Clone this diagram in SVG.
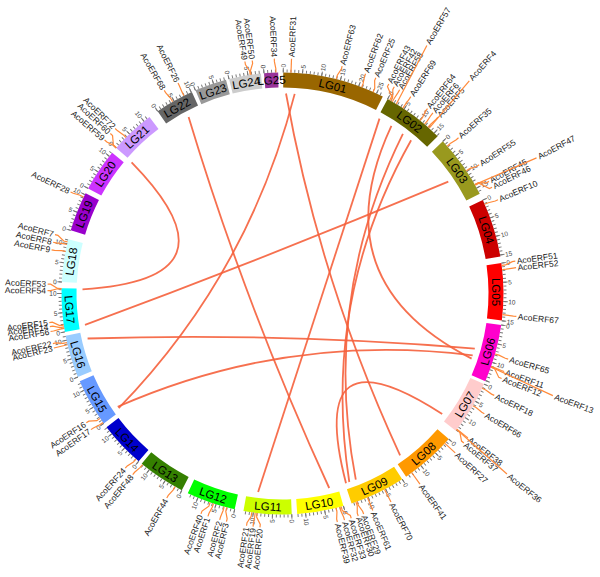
<svg xmlns="http://www.w3.org/2000/svg" width="600" height="577" viewBox="0 0 600 577">
<style>
.b{fill:none;stroke-width:15}
.t{fill:none;stroke:#777;stroke-width:3}
.m{fill:none;stroke:#777;stroke-width:4.5}
.c{font-family:"Liberation Sans",Arial,sans-serif;font-size:11.5px;fill:#000;text-anchor:middle;dominant-baseline:central}
.n{font-family:"Liberation Sans",Arial,sans-serif;font-size:6.5px;fill:#444;dominant-baseline:central}
.ne{font-family:"Liberation Sans",Arial,sans-serif;font-size:6.5px;fill:#444;dominant-baseline:central;text-anchor:end}
.g{font-family:"Liberation Sans",Arial,sans-serif;font-size:8.5px;fill:#222;dominant-baseline:central}
.ge{font-family:"Liberation Sans",Arial,sans-serif;font-size:8.5px;fill:#222;dominant-baseline:central;text-anchor:end}
.l{fill:none;stroke:#FF8A3A;stroke-width:1.2}
.k{fill:none;stroke:#F5603C;stroke-width:1.8;stroke-opacity:.9}
</style>
<rect width="600" height="577" fill="#fff"/>
<g id="links">
<path class="k" d="M188.6,116.9 Q246,307.3 329.2,488"/>
<path class="k" d="M131.6,162.3 Q246.1,279.5 82.5,289.3"/>
<path class="k" d="M294.7,93.9 Q248.5,274.4 118.7,408.2"/>
<path class="k" d="M286,93.5 Q319.7,281.8 400.1,455.3"/>
<path class="k" d="M117.7,406.8 Q288.1,332.1 472.7,355.3"/>
<path class="k" d="M85,324.8 Q268.2,257.2 448.3,181.7"/>
<path class="k" d="M87.6,338.5 Q281.5,332.5 474.8,348.6"/>
<path class="k" d="M391.4,125.8 Q319.4,280.8 471.6,358.6"/>
<path class="k" d="M402.9,133.8 Q321.1,298.8 355.8,479.6"/>
<path class="k" d="M411.1,140.3 Q320.9,300.4 349.3,482"/>
<path class="k" d="M442.2,413.9 Q305.3,325.2 346,483.2"/>
<path class="k" d="M258.1,492 Q319.6,305.5 379.5,118.6"/>
</g>
<g transform="translate(282.5,293.5)">
<g id="LG01">
<circle class="b" r="213.5" pathLength="360" stroke="#996600" stroke-dasharray="26.8 400" transform="rotate(-89.8)"/>
<circle class="t" r="222.5" pathLength="360" transform="rotate(-89.925)" stroke-dasharray=".25 .75 .25 .75 .25 .75 .25 .75 .25 .75 .25 .75 .25 .75 .25 .75 .25 .75 .25 .75 .25 .75 .25 .75 .25 .75 .25 .75 .25 .75 .25 .75 .25 .75 .25 .75 .25 .75 .25 .75 .25 .75 .25 .75 .25 .75 .25 .75 .25 .75 .25 .75 .25 400"/>
<circle class="m" r="223.2" pathLength="360" transform="rotate(-89.925)" stroke-dasharray=".25 4.75 .25 4.75 .25 4.75 .25 4.75 .25 4.75 .25 400"/>
<text class="c" transform="rotate(13.6) translate(0,-213.5)">LG01</text>
<text class="n" transform="rotate(0.2) translate(0,-226) rotate(-90)">0</text>
<text class="n" transform="rotate(5.2) translate(0,-226) rotate(-90)">5</text>
<text class="n" transform="rotate(10.2) translate(0,-226) rotate(-90)">10</text>
<text class="n" transform="rotate(15.2) translate(0,-226) rotate(-90)">15</text>
<text class="n" transform="rotate(20.2) translate(0,-226) rotate(-90)">20</text>
<text class="n" transform="rotate(25.2) translate(0,-226) rotate(-90)">25</text>
</g>
<g id="LG02">
<circle class="b" r="213.5" pathLength="360" stroke="#666600" stroke-dasharray="16.2 400" transform="rotate(-61.6)"/>
<circle class="t" r="222.5" pathLength="360" transform="rotate(-61.725)" stroke-dasharray=".25 .75 .25 .75 .25 .75 .25 .75 .25 .75 .25 .75 .25 .75 .25 .75 .25 .75 .25 .75 .25 .75 .25 .75 .25 .75 .25 .75 .25 .75 .25 .75 .25 400"/>
<circle class="m" r="223.2" pathLength="360" transform="rotate(-61.725)" stroke-dasharray=".25 4.75 .25 4.75 .25 4.75 .25 400"/>
<text class="c" transform="rotate(36.5) translate(0,-213.5)">LG02</text>
<text class="n" transform="rotate(28.4) translate(0,-226) rotate(-90)">0</text>
<text class="n" transform="rotate(33.4) translate(0,-226) rotate(-90)">5</text>
<text class="n" transform="rotate(38.4) translate(0,-226) rotate(-90)">10</text>
<text class="n" transform="rotate(43.4) translate(0,-226) rotate(-90)">15</text>
</g>
<g id="LG03">
<circle class="b" r="213.5" pathLength="360" stroke="#99991E" stroke-dasharray="16.7 400" transform="rotate(-43.5)"/>
<circle class="t" r="222.5" pathLength="360" transform="rotate(-43.625)" stroke-dasharray=".25 .75 .25 .75 .25 .75 .25 .75 .25 .75 .25 .75 .25 .75 .25 .75 .25 .75 .25 .75 .25 .75 .25 .75 .25 .75 .25 .75 .25 .75 .25 .75 .25 400"/>
<circle class="m" r="223.2" pathLength="360" transform="rotate(-43.625)" stroke-dasharray=".25 4.75 .25 4.75 .25 4.75 .25 400"/>
<text class="c" transform="rotate(54.85) translate(0,-213.5)">LG03</text>
<text class="n" transform="rotate(46.5) translate(0,-226) rotate(-90)">0</text>
<text class="n" transform="rotate(51.5) translate(0,-226) rotate(-90)">5</text>
<text class="n" transform="rotate(56.5) translate(0,-226) rotate(-90)">10</text>
<text class="n" transform="rotate(61.5) translate(0,-226) rotate(-90)">15</text>
</g>
<g id="LG04">
<circle class="b" r="213.5" pathLength="360" stroke="#CC0000" stroke-dasharray="15.4 400" transform="rotate(-25)"/>
<circle class="t" r="222.5" pathLength="360" transform="rotate(-25.125)" stroke-dasharray=".25 .75 .25 .75 .25 .75 .25 .75 .25 .75 .25 .75 .25 .75 .25 .75 .25 .75 .25 .75 .25 .75 .25 .75 .25 .75 .25 .75 .25 .75 .25 400"/>
<circle class="m" r="223.2" pathLength="360" transform="rotate(-25.125)" stroke-dasharray=".25 4.75 .25 4.75 .25 4.75 .25 400"/>
<text class="c" transform="rotate(72.7) translate(0,-213.5)">LG04</text>
<text class="n" transform="rotate(65) translate(0,-226) rotate(-90)">0</text>
<text class="n" transform="rotate(70) translate(0,-226) rotate(-90)">5</text>
<text class="n" transform="rotate(75) translate(0,-226) rotate(-90)">10</text>
<text class="n" transform="rotate(80) translate(0,-226) rotate(-90)">15</text>
</g>
<g id="LG05">
<circle class="b" r="213.5" pathLength="360" stroke="#FF0000" stroke-dasharray="14.9 400" transform="rotate(-7.9)"/>
<circle class="t" r="222.5" pathLength="360" transform="rotate(-8.025)" stroke-dasharray=".25 .75 .25 .75 .25 .75 .25 .75 .25 .75 .25 .75 .25 .75 .25 .75 .25 .75 .25 .75 .25 .75 .25 .75 .25 .75 .25 .75 .25 .75 .25 400"/>
<circle class="m" r="223.2" pathLength="360" transform="rotate(-8.025)" stroke-dasharray=".25 4.75 .25 4.75 .25 4.75 .25 400"/>
<text class="c" transform="rotate(89.6) translate(0,-213.5)">LG05</text>
<text class="n" transform="rotate(82.1) translate(0,-226) rotate(-90)">0</text>
<text class="n" transform="rotate(87.1) translate(0,-226) rotate(-90)">5</text>
<text class="n" transform="rotate(92.1) translate(0,-226) rotate(-90)">10</text>
<text class="n" transform="rotate(97.1) translate(0,-226) rotate(-90)">15</text>
</g>
<g id="LG06">
<circle class="b" r="213.5" pathLength="360" stroke="#FF00CC" stroke-dasharray="15.2 400" transform="rotate(8.2)"/>
<circle class="t" r="222.5" pathLength="360" transform="rotate(8.075)" stroke-dasharray=".25 .75 .25 .75 .25 .75 .25 .75 .25 .75 .25 .75 .25 .75 .25 .75 .25 .75 .25 .75 .25 .75 .25 .75 .25 .75 .25 .75 .25 .75 .25 400"/>
<circle class="m" r="223.2" pathLength="360" transform="rotate(8.075)" stroke-dasharray=".25 4.75 .25 4.75 .25 4.75 .25 400"/>
<text class="c" transform="rotate(105.8) translate(0,-213.5) rotate(180)">LG06</text>
<text class="n" transform="rotate(98.2) translate(0,-226) rotate(-90)">0</text>
<text class="n" transform="rotate(103.2) translate(0,-226) rotate(-90)">5</text>
<text class="n" transform="rotate(108.2) translate(0,-226) rotate(-90)">10</text>
</g>
<g id="LG07">
<circle class="b" r="213.5" pathLength="360" stroke="#FFCCCC" stroke-dasharray="14.2 400" transform="rotate(24.2)"/>
<circle class="t" r="222.5" pathLength="360" transform="rotate(24.075)" stroke-dasharray=".25 .75 .25 .75 .25 .75 .25 .75 .25 .75 .25 .75 .25 .75 .25 .75 .25 .75 .25 .75 .25 .75 .25 .75 .25 .75 .25 .75 .25 400"/>
<circle class="m" r="223.2" pathLength="360" transform="rotate(24.075)" stroke-dasharray=".25 4.75 .25 4.75 .25 400"/>
<text class="c" transform="rotate(121.3) translate(0,-213.5) rotate(180)">LG07</text>
<text class="n" transform="rotate(114.2) translate(0,-226) rotate(-90)">0</text>
<text class="n" transform="rotate(119.2) translate(0,-226) rotate(-90)">5</text>
<text class="n" transform="rotate(124.2) translate(0,-226) rotate(-90)">10</text>
</g>
<g id="LG08">
<circle class="b" r="213.5" pathLength="360" stroke="#FF9900" stroke-dasharray="14.8 400" transform="rotate(41.2)"/>
<circle class="t" r="222.5" pathLength="360" transform="rotate(41.075)" stroke-dasharray=".25 .75 .25 .75 .25 .75 .25 .75 .25 .75 .25 .75 .25 .75 .25 .75 .25 .75 .25 .75 .25 .75 .25 .75 .25 .75 .25 .75 .25 400"/>
<circle class="m" r="223.2" pathLength="360" transform="rotate(41.075)" stroke-dasharray=".25 4.75 .25 4.75 .25 400"/>
<text class="c" transform="rotate(138.6) translate(0,-213.5) rotate(180)">LG08</text>
<text class="n" transform="rotate(131.2) translate(0,-226) rotate(-90)">0</text>
<text class="n" transform="rotate(136.2) translate(0,-226) rotate(-90)">5</text>
<text class="n" transform="rotate(141.2) translate(0,-226) rotate(-90)">10</text>
</g>
<g id="LG09">
<circle class="b" r="213.5" pathLength="360" stroke="#FFCC00" stroke-dasharray="14.6 400" transform="rotate(57.2)"/>
<circle class="t" r="222.5" pathLength="360" transform="rotate(57.075)" stroke-dasharray=".25 .75 .25 .75 .25 .75 .25 .75 .25 .75 .25 .75 .25 .75 .25 .75 .25 .75 .25 .75 .25 .75 .25 .75 .25 .75 .25 .75 .25 400"/>
<circle class="m" r="223.2" pathLength="360" transform="rotate(57.075)" stroke-dasharray=".25 4.75 .25 4.75 .25 400"/>
<text class="c" transform="rotate(154.5) translate(0,-213.5) rotate(180)">LG09</text>
<text class="n" transform="rotate(147.2) translate(0,-226) rotate(-90)">0</text>
<text class="n" transform="rotate(152.2) translate(0,-226) rotate(-90)">5</text>
<text class="n" transform="rotate(157.2) translate(0,-226) rotate(-90)">10</text>
</g>
<g id="LG10">
<circle class="b" r="213.5" pathLength="360" stroke="#FFFF00" stroke-dasharray="12.2 400" transform="rotate(74)"/>
<circle class="t" r="222.5" pathLength="360" transform="rotate(73.875)" stroke-dasharray=".25 .75 .25 .75 .25 .75 .25 .75 .25 .75 .25 .75 .25 .75 .25 .75 .25 .75 .25 .75 .25 .75 .25 .75 .25 400"/>
<circle class="m" r="223.2" pathLength="360" transform="rotate(73.875)" stroke-dasharray=".25 4.75 .25 4.75 .25 400"/>
<text class="c" transform="rotate(170.1) translate(0,-213.5) rotate(180)">LG10</text>
<text class="n" transform="rotate(164) translate(0,-226) rotate(-90)">0</text>
<text class="n" transform="rotate(169) translate(0,-226) rotate(-90)">5</text>
<text class="n" transform="rotate(174) translate(0,-226) rotate(-90)">10</text>
</g>
<g id="LG11">
<circle class="b" r="213.5" pathLength="360" stroke="#CCFF00" stroke-dasharray="12.6 400" transform="rotate(87.6)"/>
<circle class="t" r="222.5" pathLength="360" transform="rotate(87.475)" stroke-dasharray=".25 .75 .25 .75 .25 .75 .25 .75 .25 .75 .25 .75 .25 .75 .25 .75 .25 .75 .25 .75 .25 .75 .25 .75 .25 400"/>
<circle class="m" r="223.2" pathLength="360" transform="rotate(87.475)" stroke-dasharray=".25 4.75 .25 4.75 .25 400"/>
<text class="c" transform="rotate(183.9) translate(0,-213.5) rotate(180)">LG11</text>
<text class="n" transform="rotate(177.6) translate(0,-226) rotate(-90)">0</text>
<text class="ne" transform="rotate(182.6) translate(0,-226) rotate(90)">5</text>
<text class="ne" transform="rotate(187.6) translate(0,-226) rotate(90)">10</text>
</g>
<g id="LG12">
<circle class="b" r="213.5" pathLength="360" stroke="#00FF00" stroke-dasharray="12.9 400" transform="rotate(102.5)"/>
<circle class="t" r="222.5" pathLength="360" transform="rotate(102.375)" stroke-dasharray=".25 .75 .25 .75 .25 .75 .25 .75 .25 .75 .25 .75 .25 .75 .25 .75 .25 .75 .25 .75 .25 .75 .25 .75 .25 400"/>
<circle class="m" r="223.2" pathLength="360" transform="rotate(102.375)" stroke-dasharray=".25 4.75 .25 4.75 .25 400"/>
<text class="c" transform="rotate(199) translate(0,-213.5) rotate(180)">LG12</text>
<text class="ne" transform="rotate(192.5) translate(0,-226) rotate(90)">0</text>
<text class="ne" transform="rotate(197.5) translate(0,-226) rotate(90)">5</text>
<text class="ne" transform="rotate(202.5) translate(0,-226) rotate(90)">10</text>
</g>
<g id="LG13">
<circle class="b" r="213.5" pathLength="360" stroke="#358000" stroke-dasharray="12.5 400" transform="rotate(117.1)"/>
<circle class="t" r="222.5" pathLength="360" transform="rotate(116.975)" stroke-dasharray=".25 .75 .25 .75 .25 .75 .25 .75 .25 .75 .25 .75 .25 .75 .25 .75 .25 .75 .25 .75 .25 .75 .25 .75 .25 400"/>
<circle class="m" r="223.2" pathLength="360" transform="rotate(116.975)" stroke-dasharray=".25 4.75 .25 4.75 .25 400"/>
<text class="c" transform="rotate(213.35) translate(0,-213.5) rotate(180)">LG13</text>
<text class="ne" transform="rotate(207.1) translate(0,-226) rotate(90)">0</text>
<text class="ne" transform="rotate(212.1) translate(0,-226) rotate(90)">5</text>
<text class="ne" transform="rotate(217.1) translate(0,-226) rotate(90)">10</text>
</g>
<g id="LG14">
<circle class="b" r="213.5" pathLength="360" stroke="#0000CC" stroke-dasharray="12.2 400" transform="rotate(130.6)"/>
<circle class="t" r="222.5" pathLength="360" transform="rotate(130.475)" stroke-dasharray=".25 .75 .25 .75 .25 .75 .25 .75 .25 .75 .25 .75 .25 .75 .25 .75 .25 .75 .25 .75 .25 .75 .25 .75 .25 400"/>
<circle class="m" r="223.2" pathLength="360" transform="rotate(130.475)" stroke-dasharray=".25 4.75 .25 4.75 .25 400"/>
<text class="c" transform="rotate(226.7) translate(0,-213.5) rotate(180)">LG14</text>
<text class="ne" transform="rotate(220.6) translate(0,-226) rotate(90)">0</text>
<text class="ne" transform="rotate(225.6) translate(0,-226) rotate(90)">5</text>
<text class="ne" transform="rotate(230.6) translate(0,-226) rotate(90)">10</text>
</g>
<g id="LG15">
<circle class="b" r="213.5" pathLength="360" stroke="#6699FF" stroke-dasharray="12.6 400" transform="rotate(144)"/>
<circle class="t" r="222.5" pathLength="360" transform="rotate(143.875)" stroke-dasharray=".25 .75 .25 .75 .25 .75 .25 .75 .25 .75 .25 .75 .25 .75 .25 .75 .25 .75 .25 .75 .25 .75 .25 .75 .25 400"/>
<circle class="m" r="223.2" pathLength="360" transform="rotate(143.875)" stroke-dasharray=".25 4.75 .25 4.75 .25 400"/>
<text class="c" transform="rotate(240.3) translate(0,-213.5) rotate(180)">LG15</text>
<text class="ne" transform="rotate(234) translate(0,-226) rotate(90)">0</text>
<text class="ne" transform="rotate(239) translate(0,-226) rotate(90)">5</text>
<text class="ne" transform="rotate(244) translate(0,-226) rotate(90)">10</text>
</g>
<g id="LG16">
<circle class="b" r="213.5" pathLength="360" stroke="#99CCFF" stroke-dasharray="11.2 400" transform="rotate(157.8)"/>
<circle class="t" r="222.5" pathLength="360" transform="rotate(157.675)" stroke-dasharray=".25 .75 .25 .75 .25 .75 .25 .75 .25 .75 .25 .75 .25 .75 .25 .75 .25 .75 .25 .75 .25 .75 .25 400"/>
<circle class="m" r="223.2" pathLength="360" transform="rotate(157.675)" stroke-dasharray=".25 4.75 .25 4.75 .25 400"/>
<text class="c" transform="rotate(253.4) translate(0,-213.5) rotate(180)">LG16</text>
<text class="ne" transform="rotate(247.8) translate(0,-226) rotate(90)">0</text>
<text class="ne" transform="rotate(252.8) translate(0,-226) rotate(90)">5</text>
<text class="ne" transform="rotate(257.8) translate(0,-226) rotate(90)">10</text>
</g>
<g id="LG17">
<circle class="b" r="213.5" pathLength="360" stroke="#00FFFF" stroke-dasharray="11.4 400" transform="rotate(170)"/>
<circle class="t" r="222.5" pathLength="360" transform="rotate(169.875)" stroke-dasharray=".25 .75 .25 .75 .25 .75 .25 .75 .25 .75 .25 .75 .25 .75 .25 .75 .25 .75 .25 .75 .25 .75 .25 400"/>
<circle class="m" r="223.2" pathLength="360" transform="rotate(169.875)" stroke-dasharray=".25 4.75 .25 4.75 .25 400"/>
<text class="c" transform="rotate(265.7) translate(0,-213.5) rotate(180)">LG17</text>
<text class="ne" transform="rotate(260) translate(0,-226) rotate(90)">0</text>
<text class="ne" transform="rotate(265) translate(0,-226) rotate(90)">5</text>
<text class="ne" transform="rotate(270) translate(0,-226) rotate(90)">10</text>
</g>
<g id="LG18">
<circle class="b" r="213.5" pathLength="360" stroke="#CCFFFF" stroke-dasharray="11.2 400" transform="rotate(183)"/>
<circle class="t" r="222.5" pathLength="360" transform="rotate(182.875)" stroke-dasharray=".25 .75 .25 .75 .25 .75 .25 .75 .25 .75 .25 .75 .25 .75 .25 .75 .25 .75 .25 .75 .25 .75 .25 400"/>
<circle class="m" r="223.2" pathLength="360" transform="rotate(182.875)" stroke-dasharray=".25 4.75 .25 4.75 .25 400"/>
<text class="c" transform="rotate(278.6) translate(0,-213.5)">LG18</text>
<text class="ne" transform="rotate(273) translate(0,-226) rotate(90)">0</text>
<text class="ne" transform="rotate(278) translate(0,-226) rotate(90)">5</text>
<text class="ne" transform="rotate(283) translate(0,-226) rotate(90)">10</text>
</g>
<g id="LG19">
<circle class="b" r="213.5" pathLength="360" stroke="#9900CC" stroke-dasharray="10.4 400" transform="rotate(196.6)"/>
<circle class="t" r="222.5" pathLength="360" transform="rotate(196.475)" stroke-dasharray=".25 .75 .25 .75 .25 .75 .25 .75 .25 .75 .25 .75 .25 .75 .25 .75 .25 .75 .25 .75 .25 400"/>
<circle class="m" r="223.2" pathLength="360" transform="rotate(196.475)" stroke-dasharray=".25 4.75 .25 4.75 .25 400"/>
<text class="c" transform="rotate(291.8) translate(0,-213.5)">LG19</text>
<text class="ne" transform="rotate(286.6) translate(0,-226) rotate(90)">0</text>
<text class="ne" transform="rotate(291.6) translate(0,-226) rotate(90)">5</text>
<text class="ne" transform="rotate(296.6) translate(0,-226) rotate(90)">10</text>
</g>
<g id="LG20">
<circle class="b" r="213.5" pathLength="360" stroke="#CC33FF" stroke-dasharray="11.2 400" transform="rotate(208.4)"/>
<circle class="t" r="222.5" pathLength="360" transform="rotate(208.275)" stroke-dasharray=".25 .75 .25 .75 .25 .75 .25 .75 .25 .75 .25 .75 .25 .75 .25 .75 .25 .75 .25 .75 .25 .75 .25 400"/>
<circle class="m" r="223.2" pathLength="360" transform="rotate(208.275)" stroke-dasharray=".25 4.75 .25 4.75 .25 400"/>
<text class="c" transform="rotate(304) translate(0,-213.5)">LG20</text>
<text class="ne" transform="rotate(298.4) translate(0,-226) rotate(90)">0</text>
<text class="ne" transform="rotate(303.4) translate(0,-226) rotate(90)">5</text>
<text class="ne" transform="rotate(308.4) translate(0,-226) rotate(90)">10</text>
</g>
<g id="LG21">
<circle class="b" r="213.5" pathLength="360" stroke="#CC99FF" stroke-dasharray="11.8 400" transform="rotate(221.2)"/>
<circle class="t" r="222.5" pathLength="360" transform="rotate(221.075)" stroke-dasharray=".25 .75 .25 .75 .25 .75 .25 .75 .25 .75 .25 .75 .25 .75 .25 .75 .25 .75 .25 .75 .25 .75 .25 400"/>
<circle class="m" r="223.2" pathLength="360" transform="rotate(221.075)" stroke-dasharray=".25 4.75 .25 4.75 .25 400"/>
<text class="c" transform="rotate(317.1) translate(0,-213.5)">LG21</text>
<text class="ne" transform="rotate(311.2) translate(0,-226) rotate(90)">0</text>
<text class="ne" transform="rotate(316.2) translate(0,-226) rotate(90)">5</text>
<text class="ne" transform="rotate(321.2) translate(0,-226) rotate(90)">10</text>
</g>
<g id="LG22">
<circle class="b" r="213.5" pathLength="360" stroke="#666666" stroke-dasharray="10.2 400" transform="rotate(235.6)"/>
<circle class="t" r="222.5" pathLength="360" transform="rotate(235.475)" stroke-dasharray=".25 .75 .25 .75 .25 .75 .25 .75 .25 .75 .25 .75 .25 .75 .25 .75 .25 .75 .25 .75 .25 400"/>
<circle class="m" r="223.2" pathLength="360" transform="rotate(235.475)" stroke-dasharray=".25 4.75 .25 4.75 .25 400"/>
<text class="c" transform="rotate(330.4) translate(0,-213.5)">LG22</text>
<text class="ne" transform="rotate(325.6) translate(0,-226) rotate(90)">0</text>
<text class="ne" transform="rotate(330.6) translate(0,-226) rotate(90)">5</text>
<text class="ne" transform="rotate(335.6) translate(0,-226) rotate(90)">10</text>
</g>
<g id="LG23">
<circle class="b" r="213.5" pathLength="360" stroke="#999999" stroke-dasharray="8.4 400" transform="rotate(246.8)"/>
<circle class="t" r="222.5" pathLength="360" transform="rotate(246.675)" stroke-dasharray=".25 .75 .25 .75 .25 .75 .25 .75 .25 .75 .25 .75 .25 .75 .25 .75 .25 400"/>
<circle class="m" r="223.2" pathLength="360" transform="rotate(246.675)" stroke-dasharray=".25 4.75 .25 400"/>
<text class="c" transform="rotate(341) translate(0,-213.5)">LG23</text>
<text class="ne" transform="rotate(336.8) translate(0,-226) rotate(90)">0</text>
<text class="ne" transform="rotate(341.8) translate(0,-226) rotate(90)">5</text>
</g>
<g id="LG24">
<circle class="b" r="213.5" pathLength="360" stroke="#CCCCCC" stroke-dasharray="8.4 400" transform="rotate(256)"/>
<circle class="t" r="222.5" pathLength="360" transform="rotate(255.875)" stroke-dasharray=".25 .75 .25 .75 .25 .75 .25 .75 .25 .75 .25 .75 .25 .75 .25 .75 .25 400"/>
<circle class="m" r="223.2" pathLength="360" transform="rotate(255.875)" stroke-dasharray=".25 4.75 .25 400"/>
<text class="c" transform="rotate(350.2) translate(0,-213.5)">LG24</text>
<text class="ne" transform="rotate(346) translate(0,-226) rotate(90)">0</text>
<text class="ne" transform="rotate(351) translate(0,-226) rotate(90)">5</text>
</g>
<g id="LG25">
<circle class="b" r="213.5" pathLength="360" stroke="#993399" stroke-dasharray="3.7 400" transform="rotate(265.2)"/>
<circle class="t" r="222.5" pathLength="360" transform="rotate(265.075)" stroke-dasharray=".25 .75 .25 .75 .25 .75 .25 400"/>
<circle class="m" r="223.2" pathLength="360" transform="rotate(265.075)" stroke-dasharray=".25 400"/>
<text class="c" transform="rotate(357.05) translate(0,-213.5)">LG25</text>
<text class="ne" transform="rotate(355.2) translate(0,-226) rotate(90)">0</text>
</g>
<g id="genes">
<g transform="rotate(2.2)"><path class="l" d="M0,-221 L0,-235"/><text class="g" transform="translate(0,-236.5) rotate(-90)">AcoERF31</text></g>
<g transform="rotate(14.7)"><path class="l" d="M-2.32,-221 L-2.36,-225 0,-232 0,-235"/><text class="g" transform="translate(0,-236.5) rotate(-90)">AcoERF63</text></g>
<g transform="rotate(20.7)"><path class="l" d="M1.16,-221 L1.18,-225 0,-232 0,-235"/><text class="g" transform="translate(0,-236.5) rotate(-90)">AcoERF62</text></g>
<g transform="rotate(23.4)"><path class="l" d="M3.09,-221 L3.14,-225 0,-232 0,-235"/><text class="g" transform="translate(0,-236.5) rotate(-90)">AcoERF25</text></g>
<g transform="rotate(26.9)"><path class="l" d="M8.1,-221 L8.25,-225 0,-232 0,-235"/><text class="g" transform="translate(0,-236.5) rotate(-90)">AcoERF43</text></g>
<g transform="rotate(28.4)"><path class="l" d="M3.47,-221 L3.54,-225 0,-232 0,-235"/><text class="g" transform="translate(0,-236.5) rotate(-90)">AcoERF42</text></g>
<g transform="rotate(29.9)"><path class="l" d="M-0.39,-221 L-0.39,-225 0,-232 0,-235"/><text class="g" transform="translate(0,-236.5) rotate(-90)">AcoERF58</text></g>
<g transform="rotate(30.2)"><path class="l" d="M3.1,-221 L0,-287"/><text class="g" transform="translate(0,-289) rotate(-90)">AcoERF57</text></g>
<g transform="rotate(33.1)"><path class="l" d="M-0.39,-221 L-0.39,-225 0,-232 0,-235"/><text class="g" transform="translate(0,-236.5) rotate(-90)">AcoERF69</text></g>
<g transform="rotate(38.1)"><path class="l" d="M1.54,-221 L1.57,-225 0,-232 0,-235"/><text class="g" transform="translate(0,-236.5) rotate(-90)">AcoERF64</text></g>
<g transform="rotate(39.8)"><path class="l" d="M0.77,-221 L0.79,-225 0,-232 0,-235"/><text class="g" transform="translate(0,-236.5) rotate(-90)">AcoERF6</text></g>
<g transform="rotate(41.4)"><path class="l" d="M-0.77,-221 L-0.79,-225 0,-232 0,-235"/><text class="g" transform="translate(0,-236.5) rotate(-90)">AcoERF5</text></g>
<g transform="rotate(41.3)"><path class="l" d="M1.16,-221 L0,-283"/><text class="g" transform="translate(0,-285) rotate(-90)">AcoERF4</text></g>
<g transform="rotate(48.5)"><path class="l" d="M-1.16,-221 L-1.18,-225 0,-232 0,-235"/><text class="g" transform="translate(0,-236.5) rotate(-90)">AcoERF35</text></g>
<g transform="rotate(56.8)"><path class="l" d="M-1.93,-221 L-1.97,-225 0,-232 0,-235"/><text class="g" transform="translate(0,-236.5) rotate(-90)">AcoERF55</text></g>
<g transform="rotate(61.5)"><path class="l" d="M-3.86,-221 L-3.93,-225 0,-232 0,-235"/><text class="g" transform="translate(0,-236.5) rotate(-90)">AcoERF45</text></g>
<g transform="rotate(63.1)"><path class="l" d="M-9.26,-221 L-9.43,-225 0,-232 0,-235"/><text class="g" transform="translate(0,-236.5) rotate(-90)">AcoERF46</text></g>
<g transform="rotate(61.9)"><path class="l" d="M-5.4,-221 L0,-288"/><text class="g" transform="translate(0,-290) rotate(-90)">AcoERF47</text></g>
<g transform="rotate(66.5)"><path class="l" d="M-1.16,-221 L-1.18,-225 0,-232 0,-235"/><text class="g" transform="translate(0,-236.5) rotate(-90)">AcoERF10</text></g>
<g transform="rotate(82.1)"><path class="l" d="M2.32,-221 L2.36,-225 0,-232 0,-235"/><text class="g" transform="translate(0,-236.5) rotate(-90)">AcoERF51</text></g>
<g transform="rotate(83.7)"><path class="l" d="M0.39,-221 L0.39,-225 0,-232 0,-235"/><text class="g" transform="translate(0,-236.5) rotate(-90)">AcoERF52</text></g>
<g transform="rotate(95.6)"><path class="l" d="M-0.39,-221 L-0.39,-225 0,-232 0,-235"/><text class="g" transform="translate(0,-236.5) rotate(-90)">AcoERF67</text></g>
<g transform="rotate(106.2)"><path class="l" d="M-1.16,-221 L-1.18,-225 0,-232 0,-235"/><text class="g" transform="translate(0,-236.5) rotate(-90)">AcoERF65</text></g>
<g transform="rotate(109.4)"><path class="l" d="M-0.39,-221 L-0.39,-225 0,-232 0,-235"/><text class="g" transform="translate(0,-236.5) rotate(-90)">AcoERF11</text></g>
<g transform="rotate(111.2)"><path class="l" d="M-6.56,-221 L-6.68,-225 0,-232 0,-235"/><text class="g" transform="translate(0,-236.5) rotate(-90)">AcoERF12</text></g>
<g transform="rotate(110.7)"><path class="l" d="M-5.02,-221 L0,-289"/><text class="g" transform="translate(0,-291) rotate(-90)">AcoERF13</text></g>
<g transform="rotate(115.7)"><path class="l" d="M-1.16,-221 L-1.18,-225 0,-232 0,-235"/><text class="g" transform="translate(0,-236.5) rotate(-90)">AcoERF18</text></g>
<g transform="rotate(120.8)"><path class="l" d="M-1.16,-221 L-1.18,-225 0,-232 0,-235"/><text class="g" transform="translate(0,-236.5) rotate(-90)">AcoERF66</text></g>
<g transform="rotate(127.9)"><path class="l" d="M0,-221 L0,-235"/><text class="g" transform="translate(0,-236.5) rotate(-90)">AcoERF38</text></g>
<g transform="rotate(129.5)"><path class="l" d="M-5.79,-221 L-5.9,-225 0,-232 0,-235"/><text class="g" transform="translate(0,-236.5) rotate(-90)">AcoERF37</text></g>
<g transform="rotate(128.8)"><path class="l" d="M-3.09,-221 L0,-288"/><text class="g" transform="translate(0,-290) rotate(-90)">AcoERF36</text></g>
<g transform="rotate(132.7)"><path class="l" d="M0,-221 L0,-235"/><text class="g" transform="translate(0,-236.5) rotate(-90)">AcoERF27</text></g>
<g transform="rotate(144.2)"><path class="l" d="M0,-221 L0,-235"/><text class="g" transform="translate(0,-236.5) rotate(-90)">AcoERF41</text></g>
<g transform="rotate(152.5)"><path class="l" d="M0,-221 L0,-235"/><text class="g" transform="translate(0,-236.5) rotate(-90)">AcoERF70</text></g>
<g transform="rotate(157.4)"><path class="l" d="M0,-221 L0,-235"/><text class="g" transform="translate(0,-236.5) rotate(-90)">AcoERF61</text></g>
<g transform="rotate(159.8)"><path class="l" d="M1.93,-221 L1.97,-225 0,-232 0,-235"/><text class="g" transform="translate(0,-236.5) rotate(-90)">AcoERF29</text></g>
<g transform="rotate(161.2)"><path class="l" d="M-2.32,-221 L-2.36,-225 0,-232 0,-235"/><text class="g" transform="translate(0,-236.5) rotate(-90)">AcoERF30</text></g>
<g transform="rotate(163)"><path class="l" d="M6.18,-221 L6.29,-225 0,-232 0,-235"/><text class="g" transform="translate(0,-236.5) rotate(-90)">AcoERF33</text></g>
<g transform="rotate(164.7)"><path class="l" d="M1.16,-221 L1.18,-225 0,-232 0,-235"/><text class="g" transform="translate(0,-236.5) rotate(-90)">AcoERF32</text></g>
<g transform="rotate(166.5)"><path class="l" d="M-1.93,-221 L-1.97,-225 0,-232 0,-235"/><text class="g" transform="translate(0,-236.5) rotate(-90)">AcoERF39</text></g>
<g transform="rotate(185.5)"><path class="l" d="M4.25,-221 L4.32,-225 0,-232 0,-235"/><text class="ge" transform="translate(0,-236.5) rotate(90)">AcoERF20</text></g>
<g transform="rotate(187.2)"><path class="l" d="M-0.39,-221 L-0.39,-225 0,-232 0,-235"/><text class="ge" transform="translate(0,-236.5) rotate(90)">AcoERF19</text></g>
<g transform="rotate(188.8)"><path class="l" d="M-3.09,-221 L-3.14,-225 0,-232 0,-235"/><text class="ge" transform="translate(0,-236.5) rotate(90)">AcoERF21</text></g>
<g transform="rotate(193.8)"><path class="l" d="M3.09,-221 L3.14,-225 0,-232 0,-235"/><text class="ge" transform="translate(0,-236.5) rotate(90)">AcoERF3</text></g>
<g transform="rotate(195.5)"><path class="l" d="M-0.77,-221 L-0.79,-225 0,-232 0,-235"/><text class="ge" transform="translate(0,-236.5) rotate(90)">AcoERF2</text></g>
<g transform="rotate(198.5)"><path class="l" d="M-1.16,-221 L-1.18,-225 0,-232 0,-235"/><text class="ge" transform="translate(0,-236.5) rotate(90)">AcoERF1</text></g>
<g transform="rotate(200.3)"><path class="l" d="M-4.63,-221 L-4.72,-225 0,-232 0,-235"/><text class="ge" transform="translate(0,-236.5) rotate(90)">AcoERF40</text></g>
<g transform="rotate(209.5)"><path class="l" d="M-1.54,-221 L-1.57,-225 0,-232 0,-235"/><text class="ge" transform="translate(0,-236.5) rotate(90)">AcoERF44</text></g>
<g transform="rotate(219.6)"><path class="l" d="M-1.16,-221 L-1.18,-225 0,-232 0,-235"/><text class="ge" transform="translate(0,-236.5) rotate(90)">AcoERF48</text></g>
<g transform="rotate(222)"><path class="l" d="M-1.93,-221 L-1.97,-225 0,-232 0,-235"/><text class="ge" transform="translate(0,-236.5) rotate(90)">AcoERF24</text></g>
<g transform="rotate(234.6)"><path class="l" d="M-1.16,-221 L-1.18,-225 0,-232 0,-235"/><text class="ge" transform="translate(0,-236.5) rotate(90)">AcoERF17</text></g>
<g transform="rotate(236.6)"><path class="l" d="M-3.86,-221 L-3.93,-225 0,-232 0,-235"/><text class="ge" transform="translate(0,-236.5) rotate(90)">AcoERF16</text></g>
<g transform="rotate(256.6)"><path class="l" d="M0,-221 L0,-235"/><text class="ge" transform="translate(0,-236.5) rotate(90)">AcoERF23</text></g>
<g transform="rotate(257.7)"><path class="l" d="M-1.93,-221 L-1.97,-225 0,-232 0,-235"/><text class="ge" transform="translate(0,-236.5) rotate(90)">AcoERF22</text></g>
<g transform="rotate(260.7)"><path class="l" d="M0.77,-221 L0.79,-225 0,-232 0,-235"/><text class="ge" transform="translate(0,-236.5) rotate(90)">AcoERF56</text></g>
<g transform="rotate(261.9)"><path class="l" d="M-2.32,-221 L-2.36,-225 0,-232 0,-235"/><text class="ge" transform="translate(0,-236.5) rotate(90)">AcoERF14</text></g>
<g transform="rotate(262.9)"><path class="l" d="M-4.25,-221 L-4.32,-225 0,-232 0,-235"/><text class="ge" transform="translate(0,-236.5) rotate(90)">AcoERF15</text></g>
<g transform="rotate(270.7)"><path class="l" d="M1.93,-221 L1.97,-225 0,-232 0,-235"/><text class="ge" transform="translate(0,-236.5) rotate(90)">AcoERF54</text></g>
<g transform="rotate(272.3)"><path class="l" d="M-3.86,-221 L-3.93,-225 0,-232 0,-235"/><text class="ge" transform="translate(0,-236.5) rotate(90)">AcoERF53</text></g>
<g transform="rotate(280.7)"><path class="l" d="M1.16,-221 L1.18,-225 0,-232 0,-235"/><text class="ge" transform="translate(0,-236.5) rotate(90)">AcoERF9</text></g>
<g transform="rotate(282.6)"><path class="l" d="M0.77,-221 L0.79,-225 0,-232 0,-235"/><text class="ge" transform="translate(0,-236.5) rotate(90)">AcoERF8</text></g>
<g transform="rotate(284.5)"><path class="l" d="M-3.86,-221 L-3.93,-225 0,-232 0,-235"/><text class="ge" transform="translate(0,-236.5) rotate(90)">AcoERF7</text></g>
<g transform="rotate(295.6)"><path class="l" d="M1.16,-221 L1.18,-225 0,-232 0,-235"/><text class="ge" transform="translate(0,-236.5) rotate(90)">AcoERF28</text></g>
<g transform="rotate(310.8)"><path class="l" d="M1.54,-221 L1.57,-225 0,-232 0,-235"/><text class="ge" transform="translate(0,-236.5) rotate(90)">AcoERF59</text></g>
<g transform="rotate(312.9)"><path class="l" d="M-6.18,-221 L-6.29,-225 0,-232 0,-235"/><text class="ge" transform="translate(0,-236.5) rotate(90)">AcoERF60</text></g>
<g transform="rotate(314.6)"><path class="l" d="M1.16,-221 L1.18,-225 0,-232 0,-235"/><text class="ge" transform="translate(0,-236.5) rotate(90)">AcoERF72</text></g>
<g transform="rotate(329.8)"><path class="l" d="M1.54,-221 L1.57,-225 0,-232 0,-235"/><text class="ge" transform="translate(0,-236.5) rotate(90)">AcoERF68</text></g>
<g transform="rotate(333.6)"><path class="l" d="M-0.39,-221 L-0.39,-225 0,-232 0,-235"/><text class="ge" transform="translate(0,-236.5) rotate(90)">AcoERF26</text></g>
<g transform="rotate(350.8)"><path class="l" d="M3.09,-221 L3.14,-225 0,-232 0,-235"/><text class="ge" transform="translate(0,-236.5) rotate(90)">AcoERF49</text></g>
<g transform="rotate(352.6)"><path class="l" d="M-3.09,-221 L-3.14,-225 0,-232 0,-235"/><text class="ge" transform="translate(0,-236.5) rotate(90)">AcoERF50</text></g>
<g transform="rotate(358)"><path class="l" d="M1.16,-221 L1.18,-225 0,-232 0,-235"/><text class="ge" transform="translate(0,-236.5) rotate(90)">AcoERF34</text></g>
</g>
</g>
</svg>
